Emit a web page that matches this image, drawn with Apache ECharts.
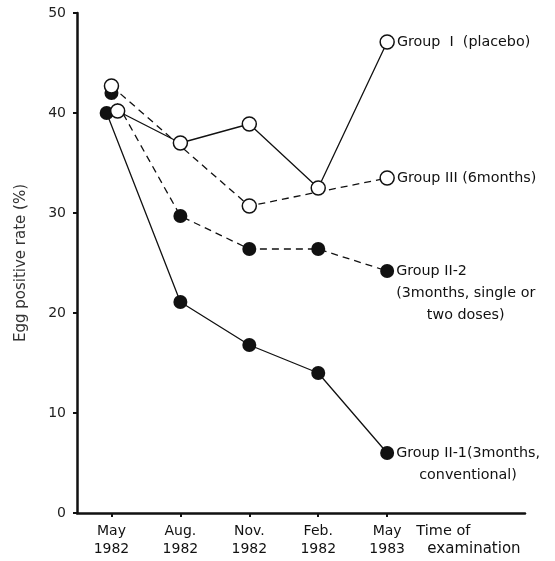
<!DOCTYPE html>
<html>
<head>
<meta charset="utf-8">
<script src="https://cdn.jsdelivr.net/npm/echarts@6/dist/echarts.min.js"></script>
<style>
  html, body { margin: 0; padding: 0; background: #fff; }
  #chart { width: 555px; height: 561px; }
</style>
</head>
<body>
<div id="chart"></div>
<script>
// Examination times (category index 0..4 on the x axis)
const examLabels = ['May\n1982', 'Aug.\n1982', 'Nov.\n1982', 'Feb.\n1982', 'May\n1983'];
const yTicks = [0, 10, 20, 30, 40, 50];

// Egg positive rate (%) per examination; null = not examined
const groupI   = [40.2, 37.0, 38.9, 32.5, 47.1];   // placebo
const groupIII = [42.7, null, 30.7, null, 33.5];   // 6 months
const groupII2 = [42.0, 29.7, 26.4, 26.4, 24.2];   // 3 months, single or two doses
const groupII1 = [40.0, 21.1, 16.8, 14.0, 6.0];    // 3 months, conventional

// small horizontal nudges at the first examination so coincident markers stay visible
const firstNudge = { groupI: 0.09, groupIII: 0, groupII2: 0, groupII1: -0.07 };

const FONT = 'DejaVu Sans';
const INK = '#111';
const LABEL_SIZE = 14.3;

function toPoints(values, nudge) {
  return values.map((v, i) => [i === 0 ? i + nudge : i, v]);
}

function seriesFor(name, values, nudge, open, dashed, labelText, rich, lines) {
  const pts = toPoints(values, nudge);
  let lastIdx = values.length - 1;
  while (values[lastIdx] == null) lastIdx--;
  const data = pts.map((p, i) => {
    if (i !== lastIdx) return p;
    return {
      value: p,
      label: {
        show: true,
        position: 'right',
        distance: 2,
        offset: [0, (lines - 1) * 11],
        formatter: labelText,
        rich: rich,
        color: INK,
        fontFamily: FONT,
        fontSize: LABEL_SIZE,
        lineHeight: 22
      }
    };
  });
  return {
    name: name,
    type: 'line',
    data: data,
    connectNulls: true,
    symbol: 'circle',
    symbolSize: 14,
    showAllSymbol: true,
    lineStyle: { color: INK, width: 1.3, type: dashed ? [7, 5] : 'solid' },
    itemStyle: open
      ? { color: '#fff', borderColor: INK, borderWidth: 1.5 }
      : { color: INK, borderColor: INK, borderWidth: 0 },
    emphasis: { disabled: true },
    animation: false
  };
}

const baseRich = { fontFamily: FONT, fontSize: LABEL_SIZE, color: INK, lineHeight: 22 };

const chart = echarts.init(document.getElementById('chart'), null, { renderer: 'canvas' });

chart.setOption({
  backgroundColor: '#fff',
  animation: false,
  grid: { left: 77, right: 30, top: 13, bottom: 48, containLabel: false },
  xAxis: {
    type: 'value',
    min: -0.5,
    max: 6,
    splitLine: { show: false },
    axisLine: { show: true, onZero: false, lineStyle: { color: INK, width: 2.5 } },
    axisTick: { show: true, customValues: [0, 1, 2, 3, 4], length: 4, lineStyle: { color: INK, width: 2 } },
    axisLabel: {
      customValues: [0, 1, 2, 3, 4, 5.18],
      margin: 9,
      color: INK,
      fontFamily: FONT,
      fontSize: 14,
      lineHeight: 18,
      formatter: function (v) {
        if (v > 4.5) return '{a|Time of}\n{b|examination}';
        return examLabels[Math.round(v)];
      },
      rich: {
        a: { fontFamily: FONT, fontSize: 14.5, color: INK, lineHeight: 18, align: 'left' },
        b: { fontFamily: FONT, fontSize: 15, color: INK, lineHeight: 18, align: 'left', padding: [0, 0, 0, 11] }
      }
    }
  },
  yAxis: {
    type: 'value',
    min: 0,
    max: 50,
    interval: 10,
    name: 'Egg positive rate (%)',
    nameLocation: 'middle',
    nameGap: 48,
    nameTextStyle: { color: '#333', fontFamily: FONT, fontSize: 15 },
    splitLine: { show: false },
    axisLine: { show: true, onZero: false, lineStyle: { color: INK, width: 2.5 } },
    axisTick: { show: true, length: 4, lineStyle: { color: INK, width: 2 } },
    axisLabel: {
      margin: 11,
      color: '#222',
      fontFamily: FONT,
      fontSize: 14,
      formatter: function (v) { return yTicks.indexOf(v) >= 0 ? String(v) : ''; }
    }
  },
  series: [
    seriesFor('Group II-1', groupII1, firstNudge.groupII1, false, false,
      '{a|Group II-1(3months,}\n{c|conventional)}',
      { a: Object.assign({ align: 'left' }, baseRich), c: Object.assign({ align: 'center' }, baseRich) }, 2),
    seriesFor('Group II-2', groupII2, firstNudge.groupII2, false, true,
      '{a|Group II-2}\n{a|(3months, single or}\n{c|two doses)}',
      { a: Object.assign({ align: 'left' }, baseRich), c: Object.assign({ align: 'center' }, baseRich) }, 3),
    seriesFor('Group I', groupI, firstNudge.groupI, true, false,
      '{a|Group  I  (placebo)}',
      { a: Object.assign({ align: 'left' }, baseRich) }, 1),
    seriesFor('Group III', groupIII, firstNudge.groupIII, true, true,
      '{a|Group III (6months)}',
      { a: Object.assign({ align: 'left' }, baseRich) }, 1)
  ]
});
</script>
</body>
</html>
